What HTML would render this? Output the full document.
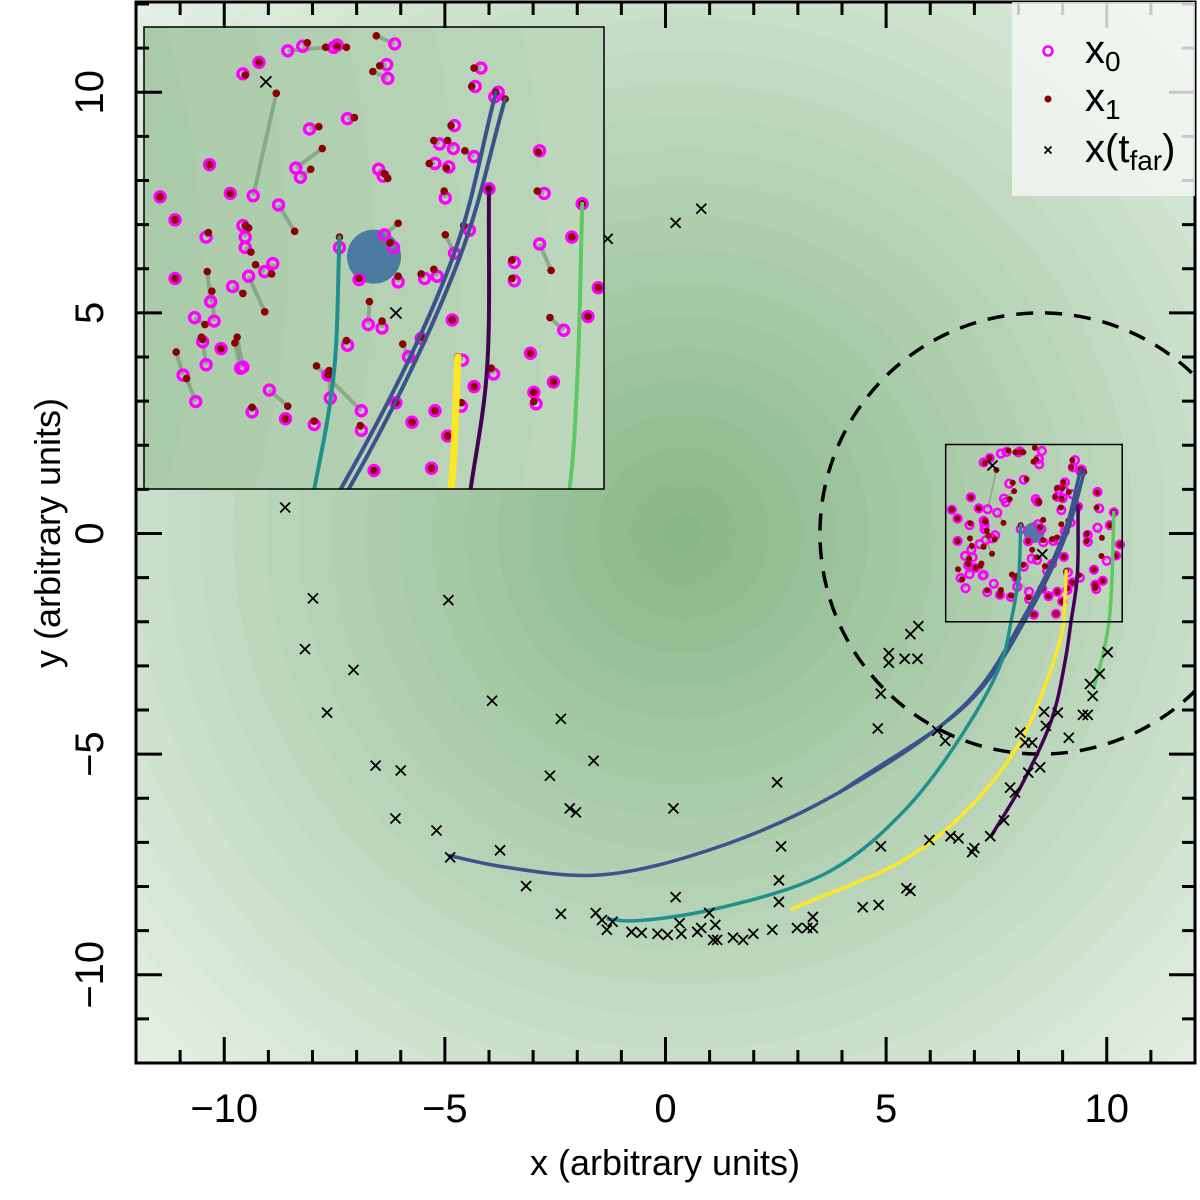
<!DOCTYPE html>
<html><head><meta charset="utf-8">
<style>
html,body{margin:0;padding:0;background:#fff;overflow:hidden;width:1200px;height:1200px;}
svg{display:block;font-family:"Liberation Sans",sans-serif;}
</style></head>
<body>
<svg id="chart" width="1200" height="1200" viewBox="0 0 1200 1200" xmlns="http://www.w3.org/2000/svg">
<defs>
<clipPath id="mainClip"><rect x="136" y="2" width="1059" height="1061"/></clipPath>
<clipPath id="insetClip"><rect x="144" y="27" width="460" height="462"/></clipPath>
</defs>
<g id="mainPlot" clip-path="url(#mainClip)"></g>
<g id="inset" clip-path="url(#insetClip)"></g>
<rect x="144" y="27" width="460" height="462" fill="none" stroke="#000" stroke-width="1.5"/>
<g id="axes"></g>
<g>
 <rect x="1012" y="2" width="183" height="194" fill="#f3f7f3" fill-opacity="0.82"/>
 <circle cx="1048" cy="51" r="4.5" fill="none" stroke="#ff00ff" stroke-width="2.5"/>
 <text x="1085" y="63" font-size="40">x<tspan font-size="28" dy="8">0</tspan></text>
 <circle cx="1048" cy="99" r="3.5" fill="#8b0000"/>
 <text x="1085" y="111" font-size="40">x<tspan font-size="28" dy="8">1</tspan></text>
 <path d="M1044.5 146.5 L1051.5 153.5 M1051.5 146.5 L1044.5 153.5" stroke="#000" stroke-width="1.8"/>
 <text x="1085" y="162" font-size="40">x(t<tspan font-size="28" dy="8">far</tspan><tspan dy="-8">)</tspan></text>
</g>
<text x="665" y="1175" font-size="36" text-anchor="middle">x (arbitrary units)</text>
<text transform="translate(60,533) rotate(-90)" font-size="36" text-anchor="middle">y (arbitrary units)</text>
</svg>
<script>
// ---- data ----
const xTickValues = [-10, -5, 0, 5, 10];
const yTickValues = [-10, -5, 0, 5, 10];
const xTickLabels = ["\u221210", "\u22125", "0", "5", "10"];
const yTickLabels = ["\u221210", "\u22125", "0", "5", "10"];

const crossX = [-8.62,-7.99,-8.17,-7.67,-7.07,-6.57,-6.00,-6.12,-5.19,-4.92,-4.88,-3.93,-3.75,-3.16,-2.37,-2.62,-2.17,-2.03,-2.37,-1.63,-1.58,-1.44,-1.33,-1.20,-0.77,-0.54,-0.18,0.05,0.36,0.18,0.23,0.32,0.72,0.81,0.99,1.08,1.17,1.13,1.53,1.76,1.99,2.42,2.53,2.62,2.57,2.57,2.98,3.21,3.34,3.34,4.47,4.83,4.88,4.81,4.88,5.06,5.06,5.42,5.55,5.71,5.73,5.46,5.55,5.98,6.16,6.34,6.46,6.64,6.95,7.00,7.36,7.67,7.81,7.92,8.04,8.15,8.22,8.31,8.49,8.62,8.58,8.89,9.14,9.46,9.57,9.62,9.68,9.84,10.02,0.23,0.81,-1.31,7.41,8.54];
const crossY = [0.59,-1.47,-2.62,-4.06,-3.09,-5.26,-5.37,-6.46,-6.73,-1.51,-7.34,-3.79,-7.18,-7.99,-4.20,-5.49,-6.23,-6.32,-8.62,-5.15,-8.60,-8.76,-8.98,-8.80,-9.03,-9.05,-9.07,-9.10,-9.07,-6.23,-8.24,-8.83,-9.03,-8.94,-8.60,-9.21,-9.21,-8.87,-9.16,-9.21,-9.07,-8.98,-5.64,-7.09,-7.86,-8.35,-8.94,-8.94,-8.94,-8.69,-8.47,-8.42,-7.09,-4.42,-3.63,-2.93,-2.71,-2.84,-2.28,-2.84,-2.10,-8.04,-8.10,-6.95,-4.47,-4.70,-6.86,-6.91,-7.22,-7.13,-6.86,-6.50,-5.76,-5.87,-4.51,-4.74,-5.42,-4.74,-5.30,-4.36,-4.04,-4.06,-4.63,-4.11,-4.11,-3.41,-3.68,-3.18,-2.69,7.04,7.36,6.68,1.54,-0.47];

const x0X = [7.73,7.60,8.00,8.03,8.53,8.46,8.47,7.35,7.21,7.30,8.12,7.79,7.67,7.71,8.39,8.43,6.92,6.49,6.62,7.10,7.52,6.89,7.21,7.23,7.23,9.28,9.23,9.43,9.40,9.05,8.92,9.04,9.22,8.88,9.00,9.79,9.35,8.97,9.83,10.16,8.44,8.52,8.05,9.18,9.05,9.79,10.07,
 6.62,6.93,7.12,7.26,7.40,7.47,6.96,6.79,6.86,7.02,6.89,7.21,7.19,6.69,6.80,7.44,7.29,7.58,7.83,7.97,8.24,7.95,8.24,8.12,8.22,8.56,8.79,8.90,8.30,8.42,8.65,8.76,9.03,9.12,9.22,9.39,8.88,8.68,8.99,9.11,8.54,8.35,8.85,9.57,9.57,10.00,9.71,9.91,9.74,9.76,10.21,10.30];
const x0Y = [1.85,1.81,1.84,1.86,1.87,1.69,1.57,1.71,1.61,0.55,1.22,1.13,0.79,0.71,0.78,0.72,0.82,0.54,0.34,0.57,0.47,0.19,0.29,0.19,0.10,1.66,1.50,1.45,1.41,1.16,1.00,0.96,0.89,0.83,0.80,0.94,0.61,0.53,0.57,0.48,0.21,0.10,0.10,0.25,0.05,0.13,0.19,
 -0.17,-0.37,-0.24,-0.15,-0.11,-0.04,-0.54,-0.51,-0.72,-0.78,-0.92,-0.94,-0.95,-1.01,-1.24,-1.14,-1.33,-1.39,-1.44,-1.21,-1.32,-1.01,-1.49,-0.75,-0.18,-0.20,-0.17,-0.15,-0.57,-0.60,-0.85,-0.69,-0.53,-0.88,-1.11,-1.00,-1.32,-1.42,-1.54,-1.28,-1.25,-1.84,-1.82,-0.03,-0.19,-0.62,-0.82,-1.07,-1.16,-1.26,-0.50,-0.25];
const x1X = [7.77,7.93,8.03,8.11,8.37,8.40,8.34,7.35,7.23,7.50,8.18,7.87,7.90,7.80,8.44,8.47,6.92,6.49,6.62,7.10,7.66,6.91,7.26,7.23,7.28,9.22,9.20,9.41,9.49,9.02,8.87,8.99,9.14,8.83,8.98,9.78,9.35,8.96,9.77,10.16,8.56,8.49,8.05,9.13,8.97,9.89,10.07,
 6.62,6.90,7.21,7.40,7.32,7.46,6.94,6.88,6.85,7.02,6.86,7.16,7.14,6.63,6.72,7.60,7.29,7.58,7.83,7.96,7.85,7.95,8.23,8.11,8.22,8.56,8.76,8.87,8.31,8.42,8.60,8.76,9.03,9.08,9.22,9.37,8.88,8.68,8.99,9.11,8.54,8.35,8.85,9.55,9.55,9.88,9.71,9.91,9.74,9.74,10.21,10.30];
const x1Y = [1.88,1.84,1.85,1.84,1.94,1.68,1.63,1.71,1.60,1.44,1.23,1.15,0.96,0.78,0.74,0.70,0.82,0.54,0.34,0.57,0.24,0.23,0.27,0.29,0.06,1.66,1.50,1.45,1.39,1.16,1.03,1.03,0.94,0.83,0.79,0.93,0.61,0.59,0.59,0.48,0.31,0.14,0.19,0.29,0.21,-0.10,0.19,
 -0.17,-0.11,-0.30,-0.46,-0.05,-0.13,-0.28,-0.57,-0.68,-0.78,-0.70,-0.68,-0.73,-0.81,-1.04,-1.28,-1.29,-1.39,-1.41,-0.97,-0.93,-1.01,-1.45,-0.71,-0.17,-0.15,-0.13,-0.09,-0.37,-0.54,-0.74,-0.68,-0.53,-0.85,-1.11,-0.95,-1.32,-1.42,-1.54,-1.25,-1.25,-1.84,-1.82,-0.01,-0.17,-0.51,-0.82,-1.07,-1.16,-1.24,-0.50,-0.25];

const blue1X = [9.41,9.03,8.06,6.84,3.88,1.12,-1.50,-3.70,-4.90];
const blue1Y = [1.45,0.00,-2.00,-3.82,-5.90,-7.13,-7.74,-7.55,-7.30];
const blue2X = [9.49,9.09,8.13,6.90,3.95];
const blue2Y = [1.39,0.00,-2.00,-3.80,-5.86];
const tealX = [8.05,8.00,7.83,7.63,6.86,5.45,3.73,1.12,-0.78,-1.30];
const tealY = [0.19,-1.00,-2.00,-2.87,-4.34,-6.24,-7.65,-8.51,-8.78,-8.74];
const yellowX = [9.08,9.02,8.94,8.06,6.86,5.45,2.87];
const yellowY = [-0.85,-2.00,-2.44,-4.68,-6.24,-7.37,-8.51];
const purpleX = [9.35,9.33,9.19,9.06,8.76,8.06,7.38];
const purpleY = [0.61,-1.00,-2.00,-2.87,-4.19,-5.72,-6.86];
const greenX = [10.16,10.12,10.05,9.90,9.71];
const greenY = [0.48,-1.00,-2.00,-2.80,-3.48];

const dashCircle = {cx: 8.5, cy: 0.0, r: 5.0};
const bodyCircle = {cx: 8.35, cy: 0.02, r: 0.235};
const insetRange = {x0: 6.35, x1: 10.35, y0: -2.0, y1: 2.017};
// ---- scales ----
const NS = "http://www.w3.org/2000/svg";
const X = x => 665.5 + x * 44.125;
const Y = y => 533.5 - y * 44.125;
const IX = x => 144 + (x - insetRange.x0) * 115;
const IY = y => 27 + (insetRange.y1 - y) * 115;
function el(tag, attrs, parent){ const e=document.createElementNS(NS,tag); for(const k in attrs) e.setAttribute(k,attrs[k]); parent.appendChild(e); return e; }
function smoothPath(xs, ys, sx, sy){
  const p = xs.map((x,i)=>[sx(x), sy(ys[i])]);
  const n=p.length;
  const dist=(a,b)=>Math.max(1e-6,Math.hypot(a[0]-b[0],a[1]-b[1]));
  let d = "M"+p[0][0].toFixed(1)+" "+p[0][1].toFixed(1);
  for(let i=0;i<n-1;i++){
    const p1=p[i], p2=p[i+1];
    const p0 = i>0 ? p[i-1] : [2*p1[0]-p2[0], 2*p1[1]-p2[1]];
    const p3 = i+2<n ? p[i+2] : [2*p2[0]-p1[0], 2*p2[1]-p1[1]];
    const d1=Math.sqrt(dist(p0,p1)), d2=Math.sqrt(dist(p1,p2)), d3=Math.sqrt(dist(p2,p3));
    const c1=[0,1].map(k=>(d1*d1*p2[k]-d2*d2*p0[k]+(2*d1*d1+3*d1*d2+d2*d2)*p1[k])/(3*d1*(d1+d2)));
    const c2=[0,1].map(k=>(d3*d3*p1[k]-d2*d2*p3[k]+(2*d3*d3+3*d3*d2+d2*d2)*p2[k])/(3*d3*(d3+d2)));
    d+=" C"+c1.map(v=>v.toFixed(1)).join(" ")+" "+c2.map(v=>v.toFixed(1)).join(" ")+" "+p2.map(v=>v.toFixed(1)).join(" ");
  }
  return d;
}
function drawLayer(g, sx, sy, scale, inset){
  const N = 24;
  for(let i=N;i>=0;i--){
    const r=(i+0.6)*0.75, t=Math.min(1,r/17.5);
    const c=[134+(229-134)*t, 181+(240-181)*t, 134+(229-134)*t].map(v=>Math.round(v));
    const b=el("circle",{cx:sx(0.4),cy:sy(0),r:r*scale,fill:`rgb(${c})`},g);
    
    
  }
  if(!inset){
    const dc=el("circle",{cx:sx(dashCircle.cx),cy:sy(dashCircle.cy),r:dashCircle.r*scale,fill:"none",stroke:"#000","stroke-width":3.5,"stroke-dasharray":"17 12"},g);
    
    
  }
  const bc=el("circle",{cx:sx(bodyCircle.cx),cy:sy(bodyCircle.cy),r:bodyCircle.r*scale,fill:"#4a7ba0"},g);
  
  
  for(let i=0;i<x0X.length;i++){
    const l=el("line",{x1:sx(x0X[i]),y1:sy(x0Y[i]),x2:sx(x1X[i]),y2:sy(x1Y[i]),stroke:"#7c9c7c","stroke-opacity":0.75,"stroke-width":inset?4:1.5},g);
    
    
  }
  for(let i=0;i<x0X.length;i++){
    const c=el("circle",{cx:sx(x0X[i]),cy:sy(x0Y[i]),r:inset?5:3.8,fill:"none",stroke:"#ff00ff","stroke-width":inset?3.4:2.6},g);
    
    
  }
  for(let i=0;i<x1X.length;i++){
    const c=el("circle",{cx:sx(x1X[i]),cy:sy(x1Y[i]),r:inset?3.8:3,fill:"#8b0000"},g);
    
    
  }
  const lines=[[blue1X,blue1Y,"#3b528b",'trajectory-blue-1'],[blue2X,blue2Y,"#3b528b",'trajectory-blue-2'],[tealX,tealY,"#21908c",'trajectory-teal'],[purpleX,purpleY,"#440154",'trajectory-purple'],[greenX,greenY,"#5ec962",'trajectory-green'],[yellowX,yellowY,"#fde725",'trajectory-yellow']];
  for(const [xs,ys,col,nm] of lines){
    const w = inset ? (col==="#fde725"?7:4) : 3.5;
    const p=el("path",{d:smoothPath(xs,ys,sx,sy),fill:"none",stroke:col,"stroke-width":w,"stroke-linecap":"round"},g);
    
    
  }
  for(let i=0;i<crossX.length;i++){
    const cx=sx(crossX[i]), cy=sy(crossY[i]), s=inset?5.5:5;
    const c=el("path",{d:`M${cx-s} ${cy-s}L${cx+s} ${cy+s}M${cx+s} ${cy-s}L${cx-s} ${cy+s}`,stroke:"#000","stroke-width":1.8},g);
    
    
  }
}
const main=document.getElementById("mainPlot");
drawLayer(main, X, Y, 44.125, false);
const box=el("rect",{x:X(insetRange.x0),y:Y(insetRange.y1),width:X(insetRange.x1)-X(insetRange.x0),height:Y(insetRange.y0)-Y(insetRange.y1),fill:"none",stroke:"#000","stroke-width":1.5},main);


drawLayer(document.getElementById("inset"), IX, IY, 115, true);

const ax=document.getElementById("axes");
for(let v=-12;v<=12;v++){
  const major = v%5===0, L = major?26:13;
  const tx=X(v), ty=Y(v);
  for(const d of [[tx,1063,tx,1063-L],[tx,2,tx,2+L],[136,ty,136+L,ty],[1195,ty,1195-L,ty]]){
    const t=el("line",{x1:d[0],y1:d[1],x2:d[2],y2:d[3],stroke:"#000","stroke-width":3},ax);
    
    
  }
}
const frame=el("rect",{x:136,y:2,width:1059,height:1061,fill:"none",stroke:"#000","stroke-width":3},ax);


xTickValues.forEach((v,i)=>{
  const t=el("text",{x:X(v),y:1122,"font-size":40,"text-anchor":"middle"},ax);
  t.textContent=xTickLabels[i];
  
  
});
yTickValues.forEach((v,i)=>{
  const t=el("text",{transform:`translate(103,${Y(v)}) rotate(-90)`,"font-size":40,"text-anchor":"middle"},ax);
  t.textContent=yTickLabels[i];
  
  
});
</script>
</body></html>
